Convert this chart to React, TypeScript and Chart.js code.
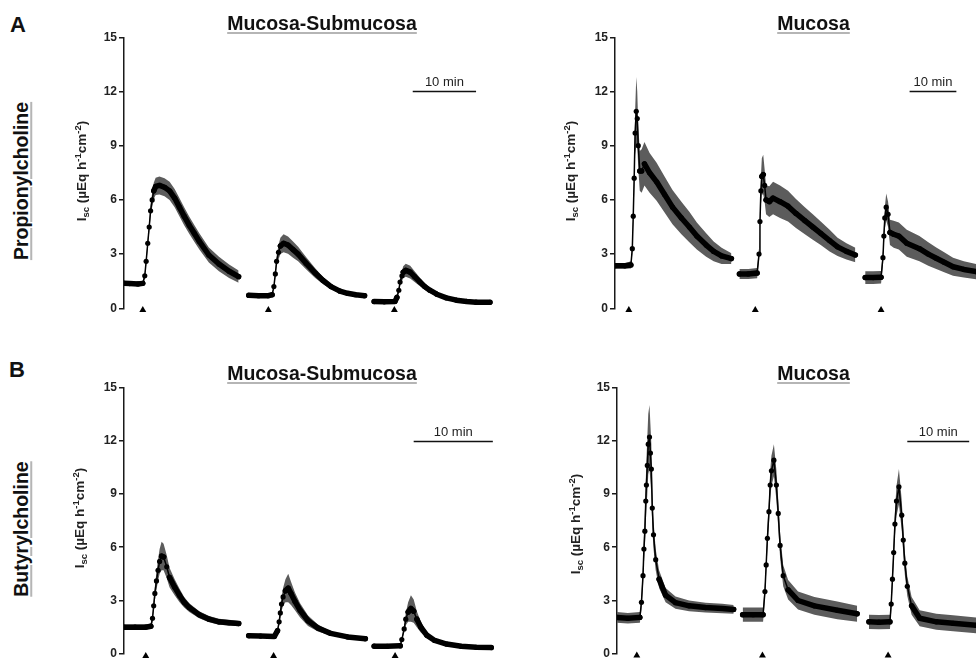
import React, { useEffect, useRef } from 'react';
import { Chart, registerables } from 'chart.js';

Chart.register(...registerables);

// ---------- data (time in minutes, Isc in µEq h-1 cm-2) ----------
const yTicksMax = 15;
const yTickStep = 3;
const scaleBarLevel = 12;
const scaleBarLabel = '10 min';

// Panel A, Mucosa-Submucosa (propionylcholine)
const aLeftSeg1T = [0, 0.9, 2.2, 2.97, 3.28, 3.5, 3.75, 3.98, 4.2, 4.45, 4.7, 5.0, 5.6, 6.4, 7.2, 8.0, 8.75, 9.5, 10.3, 11.1, 11.9, 13.4, 15.0, 16.6, 18.1];
const aLeftSeg1Mean = [1.38, 1.37, 1.35, 1.38, 1.8, 2.6, 3.6, 4.5, 5.4, 6.0, 6.5, 6.75, 6.8, 6.7, 6.5, 6.1, 5.6, 5.1, 4.6, 4.15, 3.7, 2.95, 2.45, 2.05, 1.75];
const aLeftSeg1Sem = [0.1, 0.1, 0.1, 0.1, 0.15, 0.2, 0.25, 0.3, 0.35, 0.4, 0.45, 0.48, 0.5, 0.5, 0.5, 0.5, 0.5, 0.5, 0.48, 0.46, 0.45, 0.42, 0.4, 0.37, 0.34];
const aLeftSeg2T = [19.7, 21.25, 22.8, 23.4, 23.67, 23.9, 24.1, 24.4, 24.7, 25.2, 25.9, 26.7, 27.5, 28.75, 30.2, 31.4, 32.7, 34.1, 35.3, 36.6, 38.0];
const aLeftSeg2Mean = [0.72, 0.7, 0.7, 0.75, 1.2, 1.9, 2.6, 3.1, 3.45, 3.6, 3.5, 3.25, 3.0, 2.5, 1.95, 1.55, 1.2, 0.95, 0.83, 0.75, 0.7];
const aLeftSeg2Sem = [0.06, 0.06, 0.06, 0.07, 0.1, 0.2, 0.3, 0.4, 0.45, 0.5, 0.48, 0.45, 0.4, 0.34, 0.27, 0.2, 0.15, 0.11, 0.09, 0.08, 0.07];
const aLeftSeg3T = [39.5, 41.1, 42.8, 43.1, 43.4, 43.6, 43.9, 44.1, 44.5, 45.2, 45.9, 46.7, 47.5, 48.3, 49.4, 50.9, 52.5, 54.1, 55.6, 57.8];
const aLeftSeg3Mean = [0.37, 0.36, 0.38, 0.6, 1.0, 1.45, 1.8, 2.0, 2.1, 2.0, 1.75, 1.47, 1.2, 1.0, 0.78, 0.58, 0.45, 0.38, 0.34, 0.33];
const aLeftSeg3Sem = [0.05, 0.05, 0.05, 0.08, 0.12, 0.2, 0.28, 0.33, 0.36, 0.35, 0.3, 0.24, 0.19, 0.15, 0.11, 0.08, 0.06, 0.05, 0.05, 0.05];
const aLeftStims = [2.97, 22.8, 42.7];
const aLeftBar = [45.6, 55.6];

// Panel A, Mucosa
const aRightSeg1T = [0, 2.1, 3.4, 3.7, 3.9, 4.1, 4.3, 4.55, 4.76, 4.97, 5.3, 5.7, 6.3, 7.4, 8.9, 10.6, 12.3, 14.2, 15.9, 17.5, 19.5, 21.1, 22.8, 24.9];
const aRightSeg1Mean = [2.35, 2.35, 2.4, 3.3, 5.1, 7.2, 9.7, 10.9, 10.5, 9.0, 7.6, 7.6, 8.0, 7.5, 7.0, 6.3, 5.6, 5.0, 4.5, 4.0, 3.5, 3.15, 2.9, 2.75];
const aRightSeg1Sem = [0.15, 0.15, 0.2, 0.3, 0.5, 0.8, 1.2, 1.9, 1.5, 1.2, 1.1, 1.2, 1.2, 1.1, 1.05, 1.0, 0.95, 0.9, 0.85, 0.75, 0.65, 0.55, 0.45, 0.3];
const aRightSeg2T = [26.6, 28.5, 30.4, 30.8, 31.0, 31.2, 31.4, 31.7, 32.0, 32.3, 33.0, 33.8, 35.3, 37.0, 38.7, 40.6, 42.3, 44.0, 45.9, 47.6, 49.5, 51.4];
const aRightSeg2Mean = [1.9, 1.9, 1.95, 3.0, 4.8, 6.5, 7.3, 7.4, 6.8, 6.0, 5.9, 6.1, 5.9, 5.65, 5.25, 4.85, 4.5, 4.15, 3.75, 3.4, 3.15, 2.95];
const aRightSeg2Sem = [0.28, 0.28, 0.28, 0.35, 0.5, 0.8, 1.0, 1.1, 0.9, 0.8, 0.85, 0.9, 0.9, 0.85, 0.8, 0.75, 0.7, 0.65, 0.6, 0.5, 0.45, 0.4];
const aRightSeg3T = [53.5, 55.2, 56.9, 57.3, 57.5, 57.7, 58.0, 58.4, 58.8, 59.6, 60.7, 62.4, 65.1, 67.0, 68.7, 70.4, 72.3, 74.6, 77.2, 78.2];
const aRightSeg3Mean = [1.7, 1.7, 1.72, 2.8, 4.0, 5.0, 5.6, 5.2, 4.2, 4.1, 4.0, 3.6, 3.3, 3.0, 2.77, 2.55, 2.3, 2.15, 2.03, 2.0];
const aRightSeg3Sem = [0.35, 0.35, 0.35, 0.4, 0.5, 0.6, 0.75, 0.7, 0.7, 0.75, 0.75, 0.75, 0.7, 0.65, 0.6, 0.55, 0.5, 0.45, 0.42, 0.4];
const aRightStims = [2.96, 30.0, 56.9];
const aRightBar = [63.0, 73.0];

// Panel B, Mucosa-Submucosa (butyrylcholine)
const bLeftSeg1T = [0, 1.4, 2.75, 3.4, 3.6, 3.75, 3.9, 4.1, 4.3, 4.5, 4.75, 5.0, 5.4, 5.75, 6.4, 7.0, 7.6, 8.25, 9.5, 10.75, 12.0, 13.25, 14.5];
const bLeftSeg1Mean = [1.5, 1.5, 1.5, 1.55, 2.0, 2.7, 3.4, 4.1, 4.7, 5.2, 5.5, 5.45, 4.9, 4.3, 3.75, 3.3, 2.9, 2.6, 2.2, 1.95, 1.8, 1.75, 1.7];
const bLeftSeg1Sem = [0.15, 0.15, 0.15, 0.15, 0.2, 0.3, 0.4, 0.5, 0.6, 0.7, 0.8, 0.75, 0.65, 0.55, 0.45, 0.38, 0.3, 0.25, 0.2, 0.18, 0.17, 0.16, 0.15];
const bLeftSeg2T = [15.75, 17.25, 19.0, 19.4, 19.6, 19.75, 19.9, 20.1, 20.4, 20.75, 21.1, 21.6, 22.25, 23.25, 24.5, 26.1, 28.25, 30.5];
const bLeftSeg2Mean = [1.02, 1.0, 0.98, 1.3, 1.8, 2.3, 2.8, 3.2, 3.55, 3.7, 3.4, 2.95, 2.45, 1.86, 1.45, 1.15, 0.95, 0.85];
const bLeftSeg2Sem = [0.06, 0.06, 0.06, 0.1, 0.2, 0.3, 0.4, 0.5, 0.65, 0.8, 0.65, 0.5, 0.4, 0.3, 0.2, 0.12, 0.08, 0.07];
const bLeftSeg3T = [31.6, 33.25, 34.9, 35.1, 35.4, 35.6, 35.9, 36.25, 36.6, 37.0, 37.5, 38.25, 39.25, 40.75, 42.6, 44.5, 46.4];
const bLeftSeg3Mean = [0.43, 0.42, 0.45, 0.8, 1.4, 1.95, 2.35, 2.55, 2.4, 1.95, 1.5, 1.05, 0.75, 0.55, 0.42, 0.37, 0.35];
const bLeftSeg3Sem = [0.05, 0.05, 0.05, 0.1, 0.2, 0.35, 0.55, 0.75, 0.65, 0.45, 0.3, 0.18, 0.1, 0.07, 0.05, 0.05, 0.05];
const bLeftStims = [2.75, 18.9, 34.25];
const bLeftBar = [36.6, 46.6];

// Panel B, Mucosa
const bRightSeg1T = [0, 1.75, 3.7, 3.95, 4.2, 4.35, 4.5, 4.65, 4.75, 4.9, 5.05, 5.25, 5.4, 5.55, 5.7, 5.9, 6.25, 6.8, 7.85, 9.45, 11.65, 14.3, 17.0, 18.85];
const bRightSeg1Mean = [2.05, 2.0, 2.05, 2.9, 4.4, 5.9, 6.9, 8.6, 9.5, 10.6, 11.8, 12.2, 11.3, 10.4, 8.2, 6.7, 5.3, 4.2, 3.3, 2.88, 2.7, 2.6, 2.55, 2.5];
const bRightSeg1Sem = [0.3, 0.3, 0.3, 0.4, 0.6, 0.8, 1.0, 1.2, 1.4, 1.6, 1.7, 1.8, 1.6, 1.4, 1.1, 0.8, 0.6, 0.5, 0.4, 0.35, 0.3, 0.28, 0.27, 0.25];
const bRightSeg2T = [20.3, 22.0, 23.6, 23.9, 24.1, 24.3, 24.55, 24.75, 24.95, 25.35, 25.75, 26.05, 26.35, 26.85, 27.65, 29.25, 31.9, 35.6, 38.8];
const bRightSeg2Mean = [2.2, 2.2, 2.2, 3.5, 5.0, 6.5, 8.0, 9.5, 10.3, 10.9, 9.5, 7.9, 6.1, 4.4, 3.6, 3.0, 2.7, 2.45, 2.25];
const bRightSeg2Sem = [0.4, 0.4, 0.4, 0.45, 0.5, 0.6, 0.7, 0.8, 0.85, 0.9, 0.85, 0.8, 0.7, 0.6, 0.55, 0.5, 0.5, 0.5, 0.45];
const bRightSeg3T = [40.7, 42.3, 44.1, 44.3, 44.5, 44.7, 44.9, 45.15, 45.55, 46.0, 46.25, 46.5, 46.9, 47.6, 48.9, 51.6, 54.3, 58.0, 59.6];
const bRightSeg3Mean = [1.8, 1.78, 1.8, 2.8, 4.2, 5.7, 7.3, 8.6, 9.4, 7.8, 6.4, 5.1, 3.8, 2.7, 2.0, 1.8, 1.72, 1.6, 1.6];
const bRightSeg3Sem = [0.4, 0.4, 0.4, 0.45, 0.5, 0.6, 0.7, 0.85, 1.0, 0.85, 0.75, 0.65, 0.55, 0.5, 0.45, 0.45, 0.45, 0.45, 0.45];
const bRightStims = [3.2, 23.5, 43.8];
const bRightBar = [46.9, 56.9];

// ---------- styling / layout ----------
const FONT = '"Liberation Sans", Arial, Helvetica, sans-serif';
const BAND = '#5c5c5c';
const INK = '#1a1a1a';

type Seg = { t: number[]; m: number[]; s: number[] };
interface PanelCfg {
  left: number; top: number; width: number; height: number;
  axisX: number; plotTop: number; plotBottom: number; plotRight: number;
  xMax: number; stimY: number;
  segs: Seg[]; stims: number[]; bar: number[];
}

const panels: PanelCfg[] = [
  {
    left: 60, top: 0, width: 440, height: 330, axisX: 124, plotTop: 37.3, plotBottom: 308.3, plotRight: 500,
    xMax: 58.75, stimY: -0.1,
    segs: [
      { t: aLeftSeg1T, m: aLeftSeg1Mean, s: aLeftSeg1Sem },
      { t: aLeftSeg2T, m: aLeftSeg2Mean, s: aLeftSeg2Sem },
      { t: aLeftSeg3T, m: aLeftSeg3Mean, s: aLeftSeg3Sem },
    ],
    stims: aLeftStims, bar: aLeftBar,
  },
  {
    left: 540, top: 0, width: 440, height: 330, axisX: 615, plotTop: 37.3, plotBottom: 308.3, plotRight: 980,
    xMax: 77.2, stimY: -0.1,
    segs: [
      { t: aRightSeg1T, m: aRightSeg1Mean, s: aRightSeg1Sem },
      { t: aRightSeg2T, m: aRightSeg2Mean, s: aRightSeg2Sem },
      { t: aRightSeg3T, m: aRightSeg3Mean, s: aRightSeg3Sem },
    ],
    stims: aRightStims, bar: aRightBar,
  },
  {
    left: 60, top: 330, width: 440, height: 333, axisX: 124, plotTop: 387.3, plotBottom: 656.7, plotRight: 500,
    xMax: 47, stimY: -0.12,
    segs: [
      { t: bLeftSeg1T, m: bLeftSeg1Mean, s: bLeftSeg1Sem },
      { t: bLeftSeg2T, m: bLeftSeg2Mean, s: bLeftSeg2Sem },
      { t: bLeftSeg3T, m: bLeftSeg3Mean, s: bLeftSeg3Sem },
    ],
    stims: bLeftStims, bar: bLeftBar,
  },
  {
    left: 540, top: 330, width: 440, height: 333, axisX: 617, plotTop: 387.3, plotBottom: 657.7, plotRight: 980,
    xMax: 58.0, stimY: -0.1,
    segs: [
      { t: bRightSeg1T, m: bRightSeg1Mean, s: bRightSeg1Sem },
      { t: bRightSeg2T, m: bRightSeg2Mean, s: bRightSeg2Sem },
      { t: bRightSeg3T, m: bRightSeg3Mean, s: bRightSeg3Sem },
    ],
    stims: bRightStims, bar: bRightBar,
  },
];

const scaleBarPlugin = {
  id: 'scaleBar',
  afterDraw(chart: any, _args: any, opts: any) {
    if (!opts || !opts.range) return;
    const { ctx, scales } = chart;
    const x0 = scales.x.getPixelForValue(opts.range[0]);
    const x1 = scales.x.getPixelForValue(opts.range[1]);
    const y = Math.round(scales.y.getPixelForValue(opts.level)) + 0.5;
    ctx.save();
    ctx.strokeStyle = '#111';
    ctx.lineWidth = 1.4;
    ctx.beginPath();
    ctx.moveTo(x0, y);
    ctx.lineTo(x1, y);
    ctx.stroke();
    ctx.fillStyle = '#222';
    ctx.font = `13px ${FONT}`;
    ctx.textAlign = 'center';
    ctx.textBaseline = 'alphabetic';
    ctx.fillText(opts.label, (x0 + x1) / 2, y - 6);
    ctx.restore();
  },
};

function buildConfig(p: PanelCfg): any {
  const datasets: any[] = [];
  p.segs.forEach((seg) => {
    datasets.push({
      data: seg.t.map((x, i) => ({ x, y: seg.m[i] + seg.s[i] })),
      borderWidth: 0, pointRadius: 0, fill: '+1', backgroundColor: BAND, borderColor: BAND, order: 2, tension: 0,
    });
    datasets.push({
      data: seg.t.map((x, i) => ({ x, y: seg.m[i] - seg.s[i] })),
      borderWidth: 0, pointRadius: 0, fill: false, backgroundColor: BAND, borderColor: BAND, order: 2, tension: 0,
    });
    datasets.push({
      data: seg.t.map((x, i) => ({ x, y: seg.m[i] })),
      borderColor: '#000', borderWidth: 5.5, borderCapStyle: 'round', borderJoinStyle: 'round',
      pointRadius: 2.6, pointBackgroundColor: '#000', pointBorderWidth: 0, fill: false, order: 0, tension: 0,
      segment: {
        borderWidth: (ctx: any) => {
          const dx = Math.abs(ctx.p1.x - ctx.p0.x);
          const dy = Math.abs(ctx.p1.y - ctx.p0.y);
          return dy > 2.5 * dx ? 1.5 : 5.5;
        },
      },
    });
  });
  datasets.push({
    data: p.stims.map((x) => ({ x, y: p.stimY })),
    showLine: false, pointStyle: 'triangle', pointRadius: 4, pointBackgroundColor: '#000', pointBorderWidth: 0,
    borderColor: '#000', clip: false, order: 0, fill: false,
  });

  return {
    type: 'line',
    data: { datasets },
    plugins: [scaleBarPlugin],
    options: {
      animation: false,
      responsive: false,
      devicePixelRatio: 1,
      events: [],
      layout: {
        padding: {
          left: 0,
          right: p.left + p.width - p.plotRight,
          top: p.plotTop - p.top,
          bottom: p.top + p.height - p.plotBottom,
        },
      },
      plugins: {
        legend: { display: false },
        tooltip: { enabled: false },
        title: { display: false },
        scaleBar: { range: p.bar, level: scaleBarLevel, label: scaleBarLabel },
      },
      scales: {
        x: { type: 'linear', display: false, min: 0, max: p.xMax },
        y: {
          type: 'linear', min: 0, max: yTicksMax,
          ticks: { stepSize: yTickStep, color: '#222', padding: 2, font: { family: FONT, size: 12, weight: 'bold' } },
          grid: { drawOnChartArea: false, drawTicks: true, tickLength: 5, color: INK, lineWidth: 1.5 },
          border: { display: true, color: INK, width: 1.5 },
          afterFit: (scale: any) => { scale.width = p.axisX - p.left; },
        },
      },
    },
  };
}

function Panel({ p }: { p: PanelCfg }) {
  const ref = useRef<HTMLCanvasElement>(null);
  useEffect(() => {
    const chart = new Chart(ref.current as HTMLCanvasElement, buildConfig(p));
    return () => chart.destroy();
  }, []);
  return (
    <canvas
      ref={ref}
      width={p.width}
      height={p.height}
      style={{ position: 'absolute', left: p.left, top: p.top, width: p.width, height: p.height }}
    />
  );
}

const underline: React.CSSProperties = {
  textDecoration: 'underline',
  textDecorationColor: '#b5b5b5',
  textUnderlineOffset: '2px',
  textDecorationThickness: '1.5px',
};

function Title({ text, cx, top }: { text: string; cx: number; top: number }) {
  return (
    <div style={{ position: 'absolute', left: cx, top, transform: 'translateX(-50%)', whiteSpace: 'nowrap',
      font: `bold 19.5px/19.5px ${FONT}`, color: '#111', ...underline }}>
      {text}
    </div>
  );
}

function SideLabel({ text, cx, cy }: { text: string; cx: number; cy: number }) {
  return (
    <div style={{ position: 'absolute', left: cx, top: cy, transform: 'translate(-50%, -50%) rotate(-90deg)',
      whiteSpace: 'nowrap', font: `bold 19.5px/19.5px ${FONT}`, color: '#111', ...underline }}>
      {text}
    </div>
  );
}

function YTitle({ cx, cy }: { cx: number; cy: number }) {
  const small: React.CSSProperties = { fontSize: 9.5, position: 'relative' };
  return (
    <div style={{ position: 'absolute', left: cx, top: cy, transform: 'translate(-50%, -50%) rotate(-90deg)',
      whiteSpace: 'nowrap', font: `bold 13.5px/16px ${FONT}`, color: '#222' }}>
      I<span style={{ ...small, top: 3 }}>sc</span> (µEq h<span style={{ ...small, top: -5 }}>-1</span>cm<span style={{ ...small, top: -5 }}>-2</span>)
    </div>
  );
}

export default function App() {
  return (
    <div style={{ position: 'absolute', left: 0, top: 0, width: 980, height: 663, background: '#fff', overflow: 'hidden' }}>
      {panels.map((p, i) => <Panel key={i} p={p} />)}
      <div style={{ position: 'absolute', left: 10, top: 14.4, font: `bold 22px/22px ${FONT}`, color: '#111' }}>A</div>
      <div style={{ position: 'absolute', left: 9, top: 359.4, font: `bold 22px/22px ${FONT}`, color: '#111' }}>B</div>
      <Title text="Mucosa-Submucosa" cx={322} top={13.5} />
      <Title text="Mucosa" cx={813.5} top={13.5} />
      <Title text="Mucosa-Submucosa" cx={322} top={364.2} />
      <Title text="Mucosa" cx={813.5} top={364.2} />
      <SideLabel text="Propionylcholine" cx={22} cy={180.5} />
      <SideLabel text="Butyrylcholine" cx={22} cy={529} />
      <YTitle cx={82} cy={170.5} />
      <YTitle cx={571} cy={171} />
      <YTitle cx={80} cy={518} />
      <YTitle cx={576} cy={524} />
    </div>
  );
}
